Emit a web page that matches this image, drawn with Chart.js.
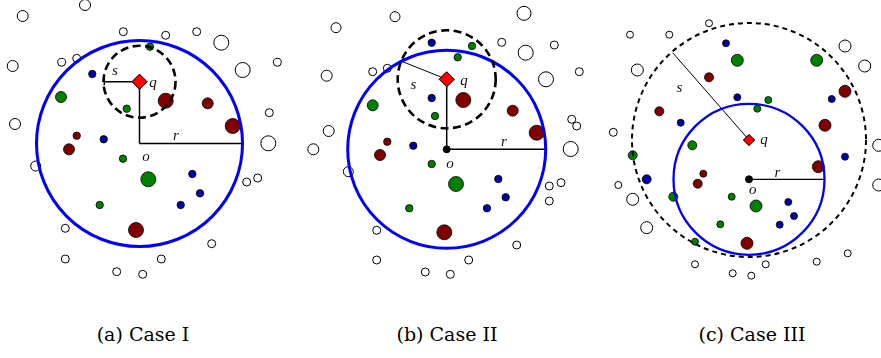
<!DOCTYPE html>
<html>
<head>
  <meta charset="UTF-8">
  <title>Case I / II / III</title>
  <script src="https://cdn.jsdelivr.net/npm/chart.js@4.4.0/dist/chart.umd.min.js"></script>
  <style>
    * { margin: 0; padding: 0; box-sizing: border-box; }
    body { background: #fff; width: 881px; height: 358px; position: relative; overflow: hidden; }
    .plot { position: absolute; left: 0; top: 0; width: 881px; height: 280px; }
    .caption { position: absolute; top: 323px; width: 200px; margin-left: -100px; text-align: center;
      font-family: 'DejaVu Serif', serif; font-size: 19px; color: #000; }
  </style>
</head>
<body>
  <div class="plot"><canvas id="cases" width="881" height="280"></canvas></div>
  <div class="caption" style="left:143px">(a) Case I</div>
  <div class="caption" style="left:447px">(b) Case II</div>
  <div class="caption" style="left:752px">(c) Case III</div>

  <script>
    // points as [x, y, radius]
    const open1 = [[85,5,5.5],[22.7,16,5.5],[123.3,31.7,4],[165.7,35.3,4],[196.7,31.7,4],[221.3,42.7,7.5],[242.7,70,7.5],[277.3,62.3,4],[61.7,62.3,4],[76.7,58.3,4],[12.7,66,5.5],[15,124,5.5],[269.3,112.7,4],[268.3,143.3,7.5],[35.7,166,5],[246.7,182,4],[257.7,178,4],[65.3,228.3,4],[211.7,243.7,4],[65.3,259,4],[161.3,259,4],[116.7,271.7,4],[142.7,274.3,4]];
    const green1 = [[150,46.7,3.7],[61,97,5.5],[126.7,108.7,3.7],[123,158.7,3.7],[148.3,179.3,7.5],[99.7,205,3.7]];
    const blue1 = [[92.3,74,3.7],[103.7,139.3,3.7],[192.3,174,3.7],[200,193.3,3.7],[180.7,205,3.7]];
    const red1 = [[165.7,100.7,7.5],[207.7,103.3,5.5],[232.7,126,7.5],[76.7,135.7,3.7],[69,149.3,5.5],[136,230,7.5]];

    const open2 = [[395,16.7,5],[336,27.7,5],[524,13.3,7],[501.7,42.3,4],[554.3,45,4],[525.7,52.7,7.5],[546,79.3,7.5],[579.3,71.7,4],[372.7,71.7,4],[387.3,68.3,4],[326.7,75.7,5.5],[328.7,131,5.5],[313.3,149.3,5.5],[571.7,119.3,4],[576.7,126,4],[570.7,149,7.5],[348.3,171.7,5],[549.3,186,4],[561,182.7,4],[549.3,201,4],[376.7,230.3,4],[516.7,245,4],[376.7,260,4],[468.7,260,4],[425.3,272,4],[450.3,274.3,4]];
    const green2 = [[472,46,3.7],[457.7,57.3,3.7],[372.7,105.3,5.5],[435,116,3.7],[431.7,164,3.7],[456,184,7.5],[409.3,208.3,3.7]];
    const blue2 = [[431.7,42.7,3.7],[431.7,98,3.7],[413.3,145.7,3.7],[498.3,179,3.7],[505.7,197.3,3.7],[487,208.3,3.7]];
    const red2 = [[463.3,100,7.5],[512.7,110.7,5.5],[536.7,132.7,7.5],[387.3,141.7,3.7],[380,155,5.5],[444.3,232.3,7.5]];

    const open3 = [[630,34.7,3.5],[669.3,34.7,3.5],[709,23.3,3.5],[845,46,6],[864.7,66,6],[637.3,70,6],[613.3,132.3,4],[878.7,145.3,6],[878.7,185,6],[618.3,185,3.5],[632.7,199.3,6],[646.7,227.7,6],[695,264.3,3.5],[765.7,264.3,3.5],[732.7,273.3,3.5],[751.3,275.7,3.5],[816.7,261.7,3.5],[847.7,253.3,3.5]];
    const green3 = [[737.3,60.3,6],[816.7,60.3,6],[768.3,100,3.5],[757.3,108.7,3.5],[692.3,145.3,4.5],[632.7,155.3,4.5],[673.3,196.7,4.5],[731.7,196.7,3.5],[756,206,6],[720.3,224.3,3.5],[695,241.7,3.5]];
    const blue3 = [[726,43.3,3.5],[737.3,97.3,3.5],[831.7,99,3.5],[680.7,122.7,3.5],[845,156.7,3.5],[646.7,179.3,4.5],[788.3,202,3.5],[794,216,3.5],[779.7,224.7,3.5]];
    const red3 = [[709,77.3,4.5],[845,91.3,6],[659.3,111.3,4.5],[825,125.3,6],[818.3,166.7,6],[703.3,173.7,3.5],[697.7,183.7,4.5],[747,243.3,6]];

    // geometry of each case: o, q, range r, range s, end of s segment
    const centreO = [[139.5,143.5],[446.7,149.3],[749,179.3]];
    const pointQ = [[139.5,81.7],[446.7,79.3],[749,140]];
    const rangeR = [103, 99, 75.5];
    const rangeS = [36, 49, 117];
    const sEnd = [[104.3,81.7],[402.7,61.7],[672.7,52.7]];

    const labelS = [[115,71],[413.3,85],[679.3,88.3]];
    const labelQ = [[153,83],[464,81],[764,140]];
    const labelR = [[176,136],[504,141.7],[777.3,173.3]];
    const labelO = [[146,157],[450,164],[752.7,190]];

    const toXYR = arr => arr.map(p => ({ x: p[0], y: p[1], r: p[2] }));
    const pt = p => ({ x: p[0], y: p[1] });

    const openPts = [...open1, ...open2, ...open3];
    const greenPts = [...green1, ...green2, ...green3];
    const bluePts = [...blue1, ...blue2, ...blue3];
    const redPts = [...red1, ...red2, ...red3];

    function segment(a, b, width) {
      return {
        type: 'scatter', data: [pt(a), pt(b)], showLine: true,
        borderColor: '#000', borderWidth: width, pointRadius: 0, order: 5,
      };
    }

    const datasets = [];
    // r segments
    centreO.forEach((o, i) => datasets.push(segment(o, [o[0] + rangeR[i], o[1]], i === 2 ? 1.3 : 1.5)));
    // o-q vertical segments for case I and II
    [0, 1].forEach(i => datasets.push(segment(centreO[i], pointQ[i], 1.5)));
    // s segments
    pointQ.forEach((q, i) => datasets.push(segment(q, sEnd[i], i === 0 ? 1.5 : 1)));
    // small tick at the end of s in case I
    datasets.push(segment([sEnd[0][0], sEnd[0][1] - 3.5], [sEnd[0][0], sEnd[0][1] + 3.5], 1.5));

    datasets.push({ type: 'bubble', data: toXYR(openPts), backgroundColor: '#fff', borderColor: '#000', borderWidth: 1, order: 4 });
    datasets.push({ type: 'bubble', data: toXYR(greenPts), backgroundColor: '#008000', borderColor: '#000', borderWidth: 0.8, order: 3 });
    datasets.push({ type: 'bubble', data: toXYR(bluePts), backgroundColor: '#0000a8', borderColor: '#000', borderWidth: 0.8, order: 3 });
    datasets.push({ type: 'bubble', data: toXYR(redPts), backgroundColor: '#800000', borderColor: '#000', borderWidth: 0.8, order: 3 });
    // o dots (case II and III)
    datasets.push({ type: 'scatter', data: [pt(centreO[1]), pt(centreO[2])], pointStyle: 'circle', pointRadius: 3.5,
      backgroundColor: '#000', borderColor: '#000', order: 1 });
    // q diamonds
    datasets.push({ type: 'scatter', data: pointQ.map(pt), pointStyle: 'rectRot', pointRadius: [7.5, 7.5, 5.5],
      backgroundColor: '#ff0000', borderColor: '#000', borderWidth: 0.8, order: 0 });

    // range circles drawn through the scales
    const circlePlugin = {
      id: 'rangeCircles',
      afterDatasetsDraw(chart) {
        const { ctx, scales: { x, y } } = chart;
        const circle = (c, r, colour, width, dash) => {
          ctx.save();
          ctx.beginPath();
          ctx.strokeStyle = colour;
          ctx.lineWidth = width;
          ctx.setLineDash(dash);
          const px = x.getPixelForValue(c[0]);
          const py = y.getPixelForValue(c[1]);
          const pr = x.getPixelForValue(c[0] + r) - px;
          ctx.arc(px, py, pr, 0, Math.PI * 2);
          ctx.stroke();
          ctx.restore();
        };
        centreO.forEach((o, i) => circle(o, rangeR[i], '#0000ff', i === 2 ? 2.3 : 3, []));
        pointQ.forEach((q, i) => circle(q, rangeS[i], '#000', i === 2 ? 2 : 2.6, i === 2 ? [5, 4] : [8, 4.5]));

        // redraw q on top
        const meta = chart.getDatasetMeta(chart.data.datasets.length - 1);
        meta.data.forEach(el => el.draw(ctx));

        ctx.save();
        ctx.fillStyle = '#111';
        ctx.font = 'italic 15px "Liberation Serif", serif';
        ctx.textAlign = 'center';
        ctx.textBaseline = 'middle';
        [[labelS, 's'], [labelQ, 'q'], [labelR, 'r'], [labelO, 'o']].forEach(([list, t]) => {
          list.forEach(p => ctx.fillText(t, x.getPixelForValue(p[0]), y.getPixelForValue(p[1])));
        });
        ctx.restore();
      }
    };

    new Chart(document.getElementById('cases'), {
      data: { datasets },
      options: {
        responsive: false,
        animation: false,
        layout: { padding: 0, autoPadding: false },
        plugins: { legend: { display: false }, tooltip: { enabled: false } },
        scales: {
          x: { type: 'linear', min: 0, max: 881, display: false },
          y: { type: 'linear', min: 0, max: 280, reverse: true, display: false },
        },
      },
      plugins: [circlePlugin],
    });
  </script>
</body>
</html>
